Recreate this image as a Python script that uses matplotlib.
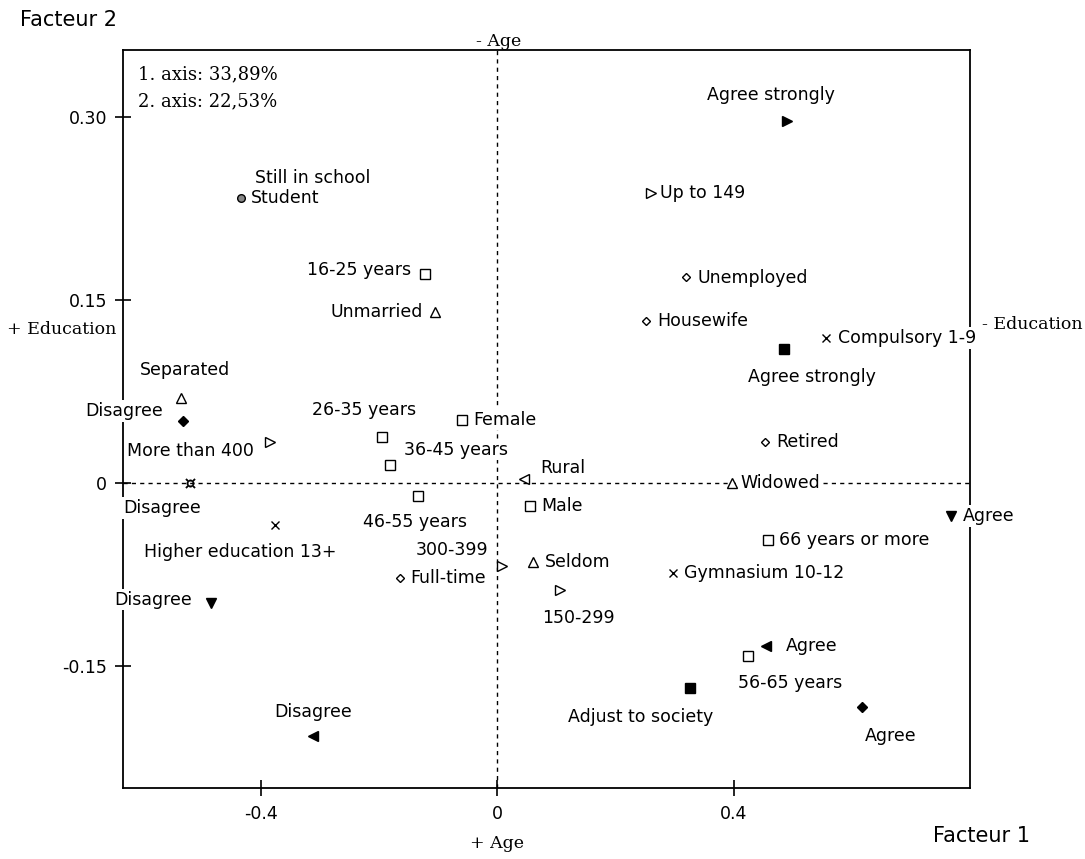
import matplotlib
matplotlib.use('Agg')
import matplotlib.pyplot as plt

# correspondence analysis coordinates
labels = ['Agree strongly', 'Up to 149', 'Student', '16-25 years', 'Unemployed',
          'Unmarried', 'Housewife', 'Compulsory 1-9', 'Agree strongly', 'Separated',
          'Disagree', '26-35 years', 'Female', 'More than 400', '36-45 years',
          'Retired', 'Rural', 'Widowed', 'Disagree', '46-55 years', 'Male', 'Agree',
          'Higher education 13+', '66 years or more', '300-399', 'Seldom', 'Full-time',
          'Gymnasium 10-12', '150-299', 'Disagree', 'Agree', '56-65 years',
          'Adjust to society', 'Agree', 'Disagree']
fac1 = [0.491, 0.261, -0.433, -0.122, 0.320, -0.105, 0.252, 0.557, 0.486, -0.535,
        -0.531, -0.195, -0.059, -0.384, -0.181, 0.453, 0.046, 0.398, -0.519, -0.134,
        0.056, 0.768, -0.376, 0.459, 0.008, 0.061, -0.164, 0.298, 0.107, -0.484,
        0.455, 0.425, 0.327, 0.618, -0.311]
fac2 = [0.297, 0.238, 0.234, 0.171, 0.169, 0.140, 0.133, 0.119, 0.110, 0.070,
        0.051, 0.038, 0.052, 0.034, 0.015, 0.034, 0.003, 0.0, 0.0, -0.011,
        -0.019, -0.027, -0.034, -0.047, -0.068, -0.065, -0.078, -0.074, -0.088, -0.098,
        -0.134, -0.142, -0.168, -0.184, -0.207]
symbol = ['trf', 'tro', 'stu', 'sqo', 'dio', 'tuo', 'dio', 'x', 'sqf', 'tuo',
          'dif', 'sqo', 'sqo', 'tro', 'sqo', 'dio', 'tlo', 'tuo', 'cur', 'sqo',
          'sqo', 'tdf', 'x', 'sqo', 'tro', 'tuo', 'dio', 'x', 'tro', 'tdf',
          'tlf', 'sqo', 'sqf', 'dif', 'tlf']

# label offsets in pixels (dx, dy, ha)
place = [(-16, 26, 'center'), (9, 0, 'left'), (10, 0, 'left'), (-14, 4, 'right'),
         (11, -1, 'left'), (-12, 0, 'right'), (11, 0, 'left'), (12, 0, 'left'),
         (28, -28, 'center'), (4, 28, 'center'), (-20, 10, 'right'), (-18, 27, 'center'),
         (11, 0, 'left'), (-16, -9, 'right'), (14, 15, 'left'), (11, 0, 'left'),
         (16, 11, 'left'), (8, 0, 'left'), (-28, -25, 'center'), (-3, -26, 'center'),
         (11, 0, 'left'), (12, 0, 'left'), (-35, -27, 'center'), (11, 0, 'left'),
         (-14, 16, 'right'), (12, 0, 'left'), (10, 0, 'left'), (11, 0, 'left'),
         (18, -28, 'center'), (-19, 3, 'right'), (20, 0, 'left'), (42, -27, 'center'),
         (-50, -29, 'center'), (28, -29, 'center'), (0, 24, 'center')]

styles = {
    'sqo': dict(marker='s', ms=6.5, mfc='white', mew=1),
    'sqf': dict(marker='s', ms=6.5, mfc='black', mew=1),
    'tuo': dict(marker='^', ms=7, mfc='white', mew=1),
    'tro': dict(marker='>', ms=7, mfc='white', mew=1),
    'tlo': dict(marker='<', ms=7, mfc='white', mew=1),
    'trf': dict(marker='>', ms=7, mfc='black', mew=1),
    'tlf': dict(marker='<', ms=7, mfc='black', mew=1),
    'tdf': dict(marker='v', ms=7, mfc='black', mew=1),
    'dio': dict(marker='D', ms=4.5, mfc='white', mew=1),
    'dif': dict(marker='D', ms=5.5, mfc='black', mew=1),
    'x': dict(marker='x', ms=5.5, mfc='black', mew=1),
    'stu': dict(marker='o', ms=5.5, mfc='#888888', mew=1),
    'cur': dict(marker='$\u00a4$', ms=7, mfc='black', mew=0.3),
}

sans = 'DejaVu Sans'
serif = 'DejaVu Serif'
fs = 12.5

fig = plt.figure(figsize=(10.85, 8.59), dpi=100)
ax = fig.add_axes([123/1085, 1-788/859, (970-123)/1085, (788-50)/859])
ax.set_xlim(-0.633, 0.800)
ax.set_ylim(-0.250, 0.355)

ax.axhline(0, color='black', lw=1, ls=(0, (3, 3)), zorder=1)
ax.axvline(0, color='black', lw=1, ls=(0, (3, 3)), zorder=1)

for lab, x, y, s, (dx, dy, ha) in zip(labels, fac1, fac2, symbol, place):
    st = styles[s]
    ax.plot(x, y, ls='none', marker=st['marker'], ms=st['ms'], mfc=st['mfc'],
            mec='black', mew=st['mew'], color='black', zorder=5)
    ax.annotate(lab, (x, y), xytext=(dx, dy), textcoords='offset pixels',
                ha=ha, va='center', fontsize=fs, family=sans, zorder=4,
                bbox=dict(boxstyle='square,pad=0.1', fc='white', ec='none'))

# second line for the student point
ax.annotate('Still in school', (fac1[2], fac2[2]), xytext=(71, 20),
            textcoords='offset pixels', ha='center', va='center',
            fontsize=fs, family=sans, zorder=4)

for sp in ax.spines.values():
    sp.set_linewidth(1.3)
ax.set_xticks([-0.4, 0, 0.4])
ax.set_xticklabels(['-0.4', '0', '0.4'])
ax.set_yticks([-0.15, 0, 0.15, 0.30])
ax.set_yticklabels(['-0.15', '0', '0.15', '0.30'])
ax.tick_params(direction='inout', length=11, width=1.2, labelsize=12.5)
ax.tick_params(axis='x', pad=7)
ax.tick_params(axis='y', pad=6)

ax.text(-0.607, 0.335, '1. axis: 33,89%', family=serif, fontsize=13, va='center')
ax.text(-0.607, 0.313, '2. axis: 22,53%', family=serif, fontsize=13, va='center')

fig.text(499/1085, 1-42/859, '- Age', family=serif, fontsize=12.5, ha='center', va='center')
fig.text(497/1085, 1-843/859, '+ Age', family=serif, fontsize=12.5, ha='center', va='center')
fig.text(62/1085, 1-330/859, '+ Education', family=serif, fontsize=12.5, ha='center', va='center')
fig.text(1032/1085, 1-325/859, '- Education', family=serif, fontsize=12.5, ha='center', va='center',
         zorder=4, bbox=dict(boxstyle='square,pad=0.1', fc='white', ec='none'))
fig.text(20/1085, 1-20/859, 'Facteur 2', family=sans, fontsize=15, ha='left', va='center')
fig.text(1030/1085, 1-836/859, 'Facteur 1', family=sans, fontsize=15, ha='right', va='center')

fig.savefig('out.png', dpi=100)
